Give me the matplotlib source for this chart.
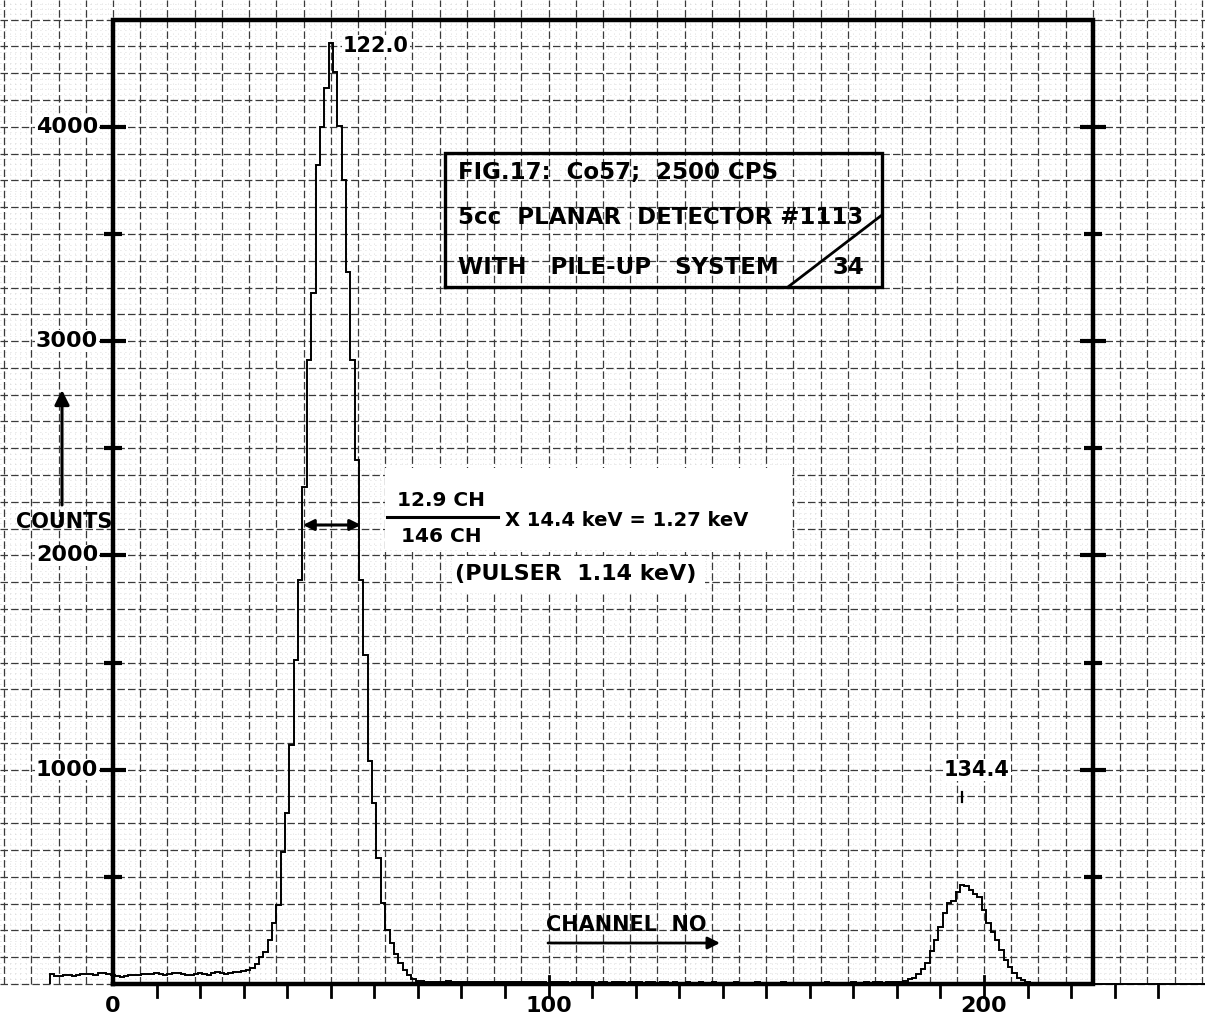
import numpy as np
import matplotlib
matplotlib.use("Agg")
import matplotlib.pyplot as plt

# ---------------- data ----------------
pre_start = -14
pre_counts = [45, 38, 36, 40, 42, 38, 44, 46, 48, 47, 40, 50, 52, 48,
              42, 36, 34, 38, 41, 44, 40, 46, 48, 45, 50, 47, 44, 46, 52, 50,
              48, 44, 42, 46, 50, 48, 44, 52, 55, 50, 48, 52, 56, 58, 62, 66]
peak122_start = 32
peak122_counts = [75, 95, 126, 149, 205, 285, 369, 616, 798, 1115, 1512, 1885,
                  2319, 2912, 3224, 3822, 3999, 4181, 4391, 4256, 4004, 3752,
                  3322, 2912, 2445, 1885, 1535, 1040, 845, 588, 378, 252, 190,
                  140, 98, 65, 42, 25, 15]
mid_start = 71
mid_counts = [12, 10, 9, 11, 8, 10, 12, 9, 8, 10,
              9, 11, 8, 7, 10, 9, 8, 10, 9, 7,
              8, 9, 7, 8, 10, 8, 7, 9, 8, 6,
              7, 8, 9, 7, 6, 8, 7, 9, 8, 7,
              6, 8, 7, 6, 8, 9, 7, 6, 7, 8,
              7, 6, 8, 7, 6, 7, 8, 6, 7, 5,
              6, 7, 5, 6, 8, 6, 5, 7, 6, 5,
              6, 5, 7, 6, 5, 6, 5, 7, 6, 5,
              6, 5, 6, 7, 5, 6, 5, 6, 5, 6,
              5, 6, 5, 7, 6, 5, 6, 5, 6, 7,
              6, 5, 7, 6, 8, 7, 6, 8, 7, 9]
peak134_start = 181
peak134_counts = [10, 15, 22, 30, 48, 70, 100, 155, 205, 265, 330, 378, 385,
                  430, 462, 455, 440, 418, 405, 345, 285, 243, 205, 160, 112,
                  78, 52, 30, 18, 10, 6]
tail_start = 212
tail_counts = [5, 4, 5, 3, 4, 3, 4, 3, 2, 3, 3, 2, 3, 2]

x_tick_values = [0, 100, 200]
y_tick_values = [1000, 2000, 3000, 4000]
box_channels = 225
box_counts = 4500

# ---------------- figure geometry (scan calibration) ----------------
W, H, DPI = 1205, 1023, 100
X0, PXC = 113.0, 4.355      # pixel of channel 0, pixels per channel
Y0, PYC = 984.0, 0.2143     # pixel of zero counts, pixels per count


def px_x(p):
    return (p - X0) / PXC


def px_y(p):
    return (Y0 - p) / PYC


fig = plt.figure(figsize=(W / DPI, H / DPI), dpi=DPI)
ax = fig.add_axes([0, 0, 1, 1])
xmin, xmax = px_x(0), px_x(W)
ymin, ymax = px_y(H), px_y(0)
ax.set_xlim(xmin, xmax)
ax.set_ylim(ymin, ymax)
ax.axis('off')

FONT = 'DejaVu Sans'
TXT = dict(family=FONT, fontweight='bold', zorder=5)

# ---------------- graph paper ----------------
cell_x, cell_y = 6.25, 125.0
kx = np.arange(int(np.floor(xmin / cell_x)), int(np.ceil(xmax / cell_x)) + 1)
ky = np.arange(0, int(np.ceil(ymax / cell_y)) + 1)
minor_x = [k * cell_x + j * cell_x / 5 for k in kx for j in range(1, 5)]
minor_y = [k * cell_y + j * cell_y / 5 for k in ky for j in range(1, 5)]
ax.vlines(minor_x, 0, ymax, colors='#d0d0d0', linewidth=0.6,
          linestyles=(0, (1, 5)), zorder=0.5)
ax.hlines(minor_y, xmin, xmax, colors='#d0d0d0', linewidth=0.6,
          linestyles=(0, (1, 5)), zorder=0.5)
ax.vlines(kx * cell_x, 0, ymax, colors='#3a3a3a', linewidth=0.9,
          linestyles=(0, (6, 2.5)), zorder=1)
ax.hlines(ky * cell_y, xmin, xmax, colors='#3a3a3a', linewidth=0.9,
          linestyles=(0, (6, 2.5)), zorder=1)

# white erased area behind the resolution note
ax.add_patch(plt.Rectangle((px_x(385), px_y(550)), px_x(792) - px_x(385),
                           px_y(468) - px_y(550), facecolor='white',
                           edgecolor='none', zorder=1.5))
ax.add_patch(plt.Rectangle((px_x(452), px_y(592)), px_x(705) - px_x(452),
                           px_y(556) - px_y(592), facecolor='white',
                           edgecolor='none', zorder=1.5))

# ---------------- spectrum ----------------
segs = [pre_counts, peak122_counts, mid_counts, peak134_counts, tail_counts]
all_counts = np.concatenate([np.asarray(c, float) for c in segs])
all_edges = np.arange(pre_start, pre_start + len(all_counts) + 1) - 0.5
ax.stairs(all_counts, all_edges, color='black', linewidth=1.4, zorder=3,
          baseline=0)

# ---------------- frame ----------------
ax.plot([0, box_channels, box_channels, 0, 0], [0, 0, box_counts, box_counts, 0],
        color='black', linewidth=3.2, solid_joinstyle='miter', zorder=4)
ax.plot([box_channels, xmax], [0, 0], color='black', linewidth=1.4, zorder=4)

for v in range(500, box_counts, 500):
    half = 3.0 if v % 1000 == 0 else 2.0
    for xb in (0, box_channels):
        ax.plot([xb - half, xb + half], [v, v], color='black', linewidth=3,
                solid_capstyle='butt', zorder=4)
tick_down = px_y(Y0 + 13)
for c in range(10, 250, 10):
    top = px_y(Y0 - 8) if c in (100, 200) else 0
    ax.plot([c, c], [tick_down, top], color='black', linewidth=2, zorder=4)

for v in x_tick_values:
    ax.text(v, px_y(1006), str(v), ha='center', va='center', fontsize=16,
            **TXT)
for v in y_tick_values:
    ax.text(px_x(98), v, str(v), ha='right', va='center', fontsize=16,
            bbox=dict(facecolor='white', edgecolor='none', pad=0.5), **TXT)

# ---------------- annotations ----------------
ax.text(px_x(376), px_y(46), '122.0', ha='center', va='center', fontsize=15,
        bbox=dict(facecolor='white', edgecolor='none', pad=0.5), **TXT)
ax.text(px_x(977), px_y(770), '134.4', ha='center', va='center', fontsize=15,
        bbox=dict(facecolor='white', edgecolor='none', pad=0.5), **TXT)
ax.plot([px_x(962), px_x(962)], [px_y(802), px_y(792)], color='black',
        linewidth=1.6, zorder=5)

bx0, bx1 = px_x(445), px_x(882)
by0, by1 = px_y(287), px_y(153)
ax.plot([bx0, bx1, bx1, bx0, bx0], [by0, by0, by1, by1, by0], color='black',
        linewidth=2.4, solid_joinstyle='miter', zorder=4)
ax.plot([px_x(788), bx1], [by0, px_y(215)], color='black', linewidth=2.0,
        zorder=4)
ax.text(px_x(458), px_y(173), 'FIG.17:  Co57;  2500 CPS', ha='left',
        va='center', fontsize=16.5, **TXT)
ax.text(px_x(458), px_y(218), '5cc  PLANAR  DETECTOR #1113', ha='left',
        va='center', fontsize=16.5, **TXT)
ax.text(px_x(458), px_y(268), 'WITH   PILE-UP   SYSTEM', ha='left',
        va='center', fontsize=16.5, **TXT)
ax.text(px_x(848), px_y(268), '34', ha='center', va='center', fontsize=16.5,
        **TXT)

ax.annotate('', xy=(px_x(303), px_y(525)), xytext=(px_x(361), px_y(525)),
            arrowprops=dict(arrowstyle='<|-|>', color='black', lw=2.2,
                            facecolor='white', mutation_scale=16,
                            shrinkA=0, shrinkB=0), zorder=5)
ax.plot([px_x(387), px_x(498)], [px_y(517), px_y(517)], color='black',
        linewidth=2.2, zorder=5)
ax.text(px_x(441), px_y(501), '12.9 CH', ha='center', va='center',
        fontsize=14.5, **TXT)
ax.text(px_x(441), px_y(537), '146 CH', ha='center', va='center',
        fontsize=14.5, **TXT)
ax.text(px_x(505), px_y(520), 'X 14.4 keV = 1.27 keV', ha='left',
        va='center', fontsize=14, **TXT)
ax.text(px_x(455), px_y(574), '(PULSER  1.14 keV)', ha='left', va='center',
        fontsize=16, **TXT)

ax.text(px_x(64), px_y(522), 'COUNTS', ha='center', va='center',
        fontsize=15, **TXT)
ax.annotate('', xy=(px_x(62), px_y(390)), xytext=(px_x(62), px_y(505)),
            arrowprops=dict(arrowstyle='-|>', color='black', lw=2.2,
                            mutation_scale=22, shrinkA=0, shrinkB=0),
            zorder=5)
ax.text(px_x(626), px_y(925), 'CHANNEL  NO', ha='center', va='center',
        fontsize=15, **TXT)
ax.annotate('', xy=(px_x(720), px_y(943)), xytext=(px_x(548), px_y(943)),
            arrowprops=dict(arrowstyle='-|>', color='black', lw=2.0,
                            mutation_scale=18, shrinkA=0, shrinkB=0),
            zorder=5)

fig.savefig('out.png', dpi=DPI)
